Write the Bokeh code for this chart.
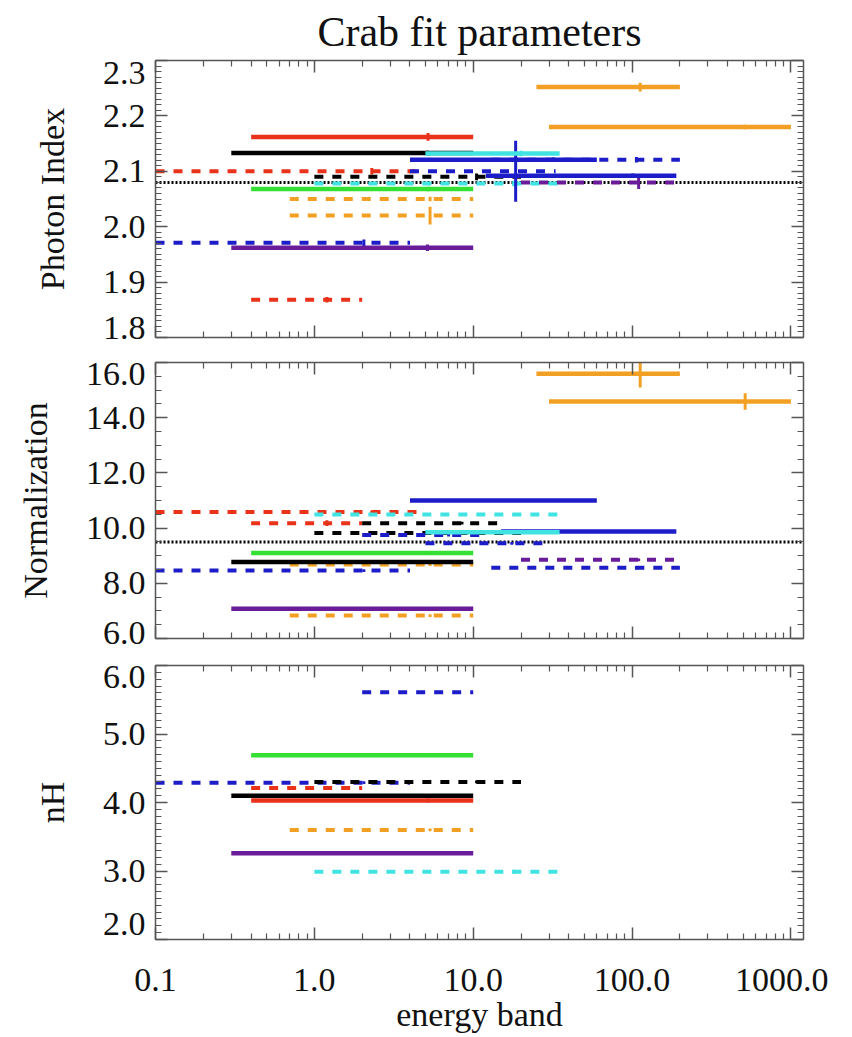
from bokeh.plotting import figure
from bokeh.layouts import column
from bokeh.models import (FixedTicker, PrintfTickFormatter, LogAxis, LinearAxis,
                          CustomJSTickFormatter, Span, Range1d)
from bokeh.embed import file_html
from bokeh.resources import INLINE

SERIF = "Liberation Serif"

# ---------------- data ----------------
x_ticks = [0.1, 1.0, 10.0, 100.0, 1000.0]

# Panel 1: Photon Index
pi_key = ["red_dash", "blue_dash", "red_dash", "orange_dash", "orange_dash", "purple_solid",
          "green_solid", "red_solid", "black_solid", "cyan_dash", "black_dash", "blue_dash",
          "purple_dash", "blue_solid", "cyan_solid", "blue_dash", "blue_solid",
          "orange_solid", "orange_solid"]
pi_lo = [0.1, 0.1, 0.4, 0.7, 0.7, 0.3, 0.4, 0.4, 0.3, 1.0, 1.0, 4.0, 20.0, 12.0, 5.0, 13.0, 4.0, 25.0, 30.0]
pi_hi = [4.5, 4.0, 2.0, 10.0, 10.0, 10.0, 10.0, 10.0, 10.0, 35.0, 20.0, 33.0, 200.0, 190.0, 35.0, 200.0, 60.0, 200.0, 1000.0]
pi_val = [2.100, 1.971, 1.868, 2.050, 2.020, 1.962, 2.068, 2.162, 2.133, 2.078, 2.090, 2.100,
          2.080, 2.092, 2.132, 2.121, 2.121, 2.252, 2.180]
pi_err = [0.006, 0.006, 0.005, 0.004, 0.016, 0.006, 0.004, 0.007, 0.004, 0.005, 0.006, 0.055,
          0.012, 0.004, 0.005, 0.005, 0.004, 0.008, 0.004]
pi_ref = 2.08
pi_yticks = [1.8, 1.9, 2.0, 2.1, 2.2, 2.3]

# Panel 2: Normalization
no_key = ["red_dash", "blue_dash", "red_dash", "orange_dash", "orange_dash", "purple_solid",
          "green_solid", "black_solid", "cyan_dash", "black_dash", "black_dash", "blue_dash",
          "blue_dash", "purple_dash", "blue_solid", "cyan_solid", "blue_dash", "blue_solid",
          "orange_solid", "orange_solid"]
no_lo = [0.1, 0.1, 0.4, 0.7, 0.7, 0.3, 0.4, 0.3, 1.0, 2.0, 1.0, 2.0, 5.0, 20.0, 15.0, 5.0, 13.0, 4.0, 25.0, 30.0]
no_hi = [4.5, 4.0, 2.0, 10.0, 10.0, 10.0, 10.0, 10.0, 35.0, 15.0, 20.0, 12.0, 30.0, 200.0, 190.0, 35.0, 200.0, 60.0, 200.0, 1000.0]
no_val = [10.58, 8.46, 10.18, 8.68, 6.83, 7.08, 9.10, 8.77, 10.49, 10.18, 9.82, 9.75, 9.45,
          8.85, 9.88, 9.85, 8.56, 11.00, 15.59, 14.59]
no_err = [0.06, 0.05, 0.10, 0.05, 0.05, 0.03, 0.03, 0.03, 0.05, 0.05, 0.05, 0.05, 0.05,
          0.05, 0.04, 0.04, 0.06, 0.04, 0.50, 0.30]
no_ref = 9.5
no_yticks = [6.0, 8.0, 10.0, 12.0, 14.0, 16.0]

# Panel 3: nH
nh_key = ["blue_dash", "red_dash", "black_dash", "blue_dash", "green_solid", "black_solid",
          "red_solid", "orange_dash", "purple_solid", "cyan_dash"]
nh_lo = [0.1, 0.4, 1.0, 2.0, 0.4, 0.3, 0.4, 0.7, 0.3, 1.0]
nh_hi = [4.0, 2.0, 20.0, 10.0, 10.0, 10.0, 10.0, 10.0, 10.0, 35.0]
nh_val = [4.29, 4.21, 4.30, 5.61, 4.69, 4.10, 4.03, 3.60, 3.26, 2.99]
nh_err = [0.02, 0.02, 0.02, 0.02, 0.02, 0.02, 0.03, 0.02, 0.02, 0.03]
nh_yticks = [2.0, 3.0, 4.0, 5.0, 6.0]

# ---------------- styles ----------------
COLORS = {"red": "#e8321a", "black": "#000000", "green": "#33e033", "orange": "#f2a024",
          "blue": "#1c1cc8", "purple": "#6a1b9a", "cyan": "#40e2e2"}
TXT = "#111111"
AX = "#555555"


def style_of(key):
    c, kind = key.split("_")
    return COLORS[c], ("solid" if kind == "solid" else "9 9")


x_minor = [m * 10.0 ** e for e in range(-1, 4) for m in range(2, 10)]
x_ticker = FixedTicker(ticks=x_ticks, minor_ticks=x_minor)


def frange(a, b, step):
    n = int(round((b - a) / step))
    return [round(a + i * step, 6) for i in range(n + 1)]


def tick_axis(ax, ticker):
    """axis that only draws inward tick marks, no labels"""
    ax.ticker = ticker
    ax.major_tick_in = 12
    ax.major_tick_out = 0
    ax.minor_tick_in = 6
    ax.minor_tick_out = 0
    ax.axis_line_color = AX
    ax.axis_line_width = 1.5
    ax.major_tick_line_color = AX
    ax.major_tick_line_width = 1.5
    ax.minor_tick_line_color = AX
    ax.minor_tick_line_width = 1.2
    ax.formatter = CustomJSTickFormatter(code="return ''")
    ax.major_label_standoff = 0
    ax.major_label_text_font_size = "1px"


FRAME_W = 648


def make_panel(ylabel, yticks, yminor, edge_px, frame_h, top, bottom, show_x,
               keys, lo, hi, val, err, ref=None):
    y0, y1 = yticks[0], yticks[-1]
    height = top + frame_h + bottom
    p = figure(width=155 + FRAME_W + 25, height=height, x_axis_type="log",
               x_range=Range1d(x_ticks[0], 1200), y_range=Range1d(y0, y1),
               output_backend="svg", toolbar_location=None,
               min_border_left=155, min_border_right=25,
               min_border_top=top, min_border_bottom=bottom)
    p.grid.visible = False
    p.outline_line_color = None
    p.background_fill_color = "white"
    p.border_fill_color = "white"

    # left: tick marks at true positions (nearest the frame)
    full_y = FixedTicker(ticks=yticks, minor_ticks=yminor)
    tick_axis(p.yaxis[0], full_y)

    # left: labels; the two edge labels are nudged inward like the original
    per_px = (y1 - y0) / frame_h
    lab_ticks = [y0 + edge_px[0] * per_px] + yticks[1:-1] + [y1 - edge_px[1] * per_px]
    step = yticks[1] - yticks[0]
    lab = LinearAxis(ticker=FixedTicker(ticks=lab_ticks, minor_ticks=[]),
                     formatter=CustomJSTickFormatter(
                         args=dict(step=step),
                         code="return (Math.round(tick / step) * step).toFixed(1);"))
    lab.major_tick_in = 0
    lab.major_tick_out = 0
    lab.minor_tick_in = 0
    lab.minor_tick_out = 0
    lab.axis_line_color = None
    lab.major_tick_line_color = None
    lab.minor_tick_line_color = None
    lab.major_label_standoff = 10
    lab.major_label_text_font = SERIF
    lab.major_label_text_font_size = "34px"
    lab.major_label_text_color = TXT
    lab.axis_label = ylabel
    lab.axis_label_text_font = SERIF
    lab.axis_label_text_font_size = "34px"
    lab.axis_label_text_font_style = "normal"
    lab.axis_label_text_color = TXT
    lab.axis_label_standoff = 29
    p.add_layout(lab, "left")

    bx = p.xaxis[0]
    tick_axis(bx, x_ticker)
    if show_x:
        bx.formatter = PrintfTickFormatter(format="%.1f")
        bx.major_label_standoff = 29
        bx.major_label_text_font = SERIF
        bx.major_label_text_font_size = "34px"
        bx.major_label_text_color = TXT
        bx.axis_label = "energy band"
        bx.axis_label_text_font = SERIF
        bx.axis_label_text_font_size = "34px"
        bx.axis_label_text_font_style = "normal"
        bx.axis_label_text_color = TXT
        bx.axis_label_standoff = 2

    top_ax = LogAxis()
    tick_axis(top_ax, x_ticker)
    p.add_layout(top_ax, "above")
    right_ax = LinearAxis()
    tick_axis(right_ax, full_y)
    p.add_layout(right_ax, "right")

    if ref is not None:
        p.add_layout(Span(location=ref, dimension="width", line_color="black",
                          line_width=3, line_dash="2 2", level="underlay"))

    for k, a, b, v, e in zip(keys, lo, hi, val, err):
        col, dash = style_of(k)
        lw = 4.5 if dash == "solid" else 4
        p.segment(x0=[a], y0=[v], x1=[b], y1=[v], line_color=col, line_width=lw,
                  line_dash=dash)
        m = (a + b) / 2.0
        p.segment(x0=[m], y0=[v - e], x1=[m], y1=[v + e], line_color=col, line_width=3)
    return p


p1 = make_panel("Photon Index", pi_yticks, frange(1.8, 2.3, 0.01), (10, 12), 277, 60, 12, False,
                pi_key, pi_lo, pi_hi, pi_val, pi_err, pi_ref)
p1.title.text = "Crab fit parameters"
p1.title.align = "center"
p1.title.text_font = SERIF
p1.title.text_font_size = "42px"
p1.title.text_font_style = "normal"
p1.title.text_color = TXT
p1.title.standoff = 12

p2 = make_panel("Normalization", no_yticks, frange(6.0, 16.0, 0.5), (6, 11), 276, 13, 12, False,
                no_key, no_lo, no_hi, no_val, no_err, no_ref)

p3 = make_panel("nH", nh_yticks, frange(2.0, 6.0, 0.1), (16, 12), 276, 15, 94, True,
                nh_key, nh_lo, nh_hi, nh_val, nh_err, None)

layout = column(p1, p2, p3, spacing=0)
open("out.html", "w").write(file_html(layout, INLINE))
